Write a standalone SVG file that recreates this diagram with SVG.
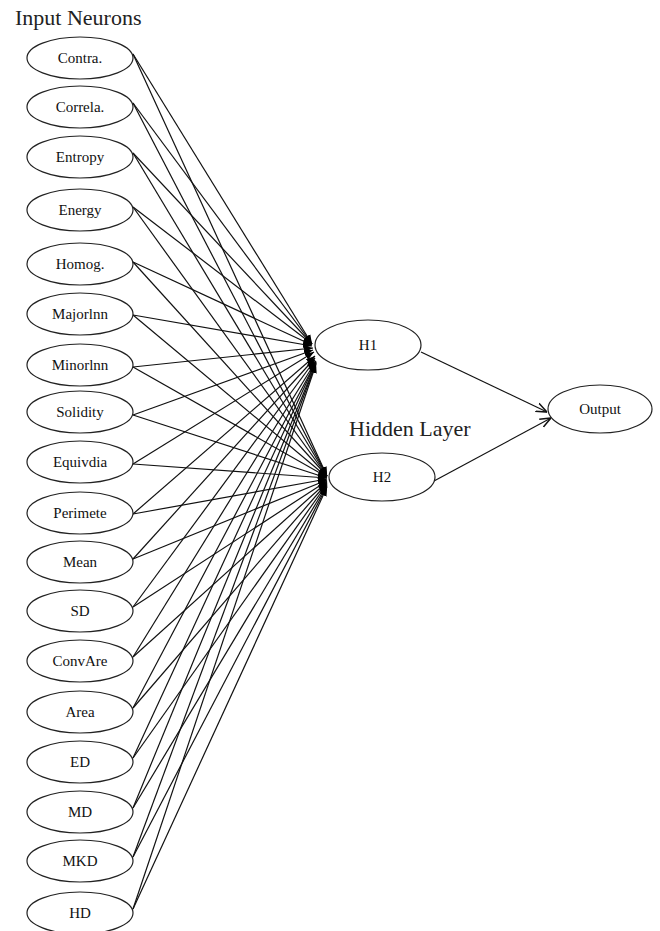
<svg xmlns="http://www.w3.org/2000/svg" width="660" height="931" viewBox="0 0 660 931">
<style>
text{font-family:'Liberation Serif',serif}
.n ellipse{fill:#fff;stroke:#222;stroke-width:1.2}
.n text{font-size:15px;text-anchor:middle;fill:#111}
.t{font-size:22px;fill:#222}
.c line{stroke:#111;stroke-width:1.2}
</style>
<defs>
<marker id="fa" viewBox="0 0 10 10" refX="10" refY="5" markerWidth="9" markerHeight="9" markerUnits="userSpaceOnUse" orient="auto">
<path d="M0,1 L10,5 L0,9 z" fill="#000"/>
</marker>
<marker id="oa" viewBox="0 0 10 10" refX="10" refY="5" markerWidth="11" markerHeight="11" markerUnits="userSpaceOnUse" orient="auto">
<path d="M0,1 L10,5 L0,9" fill="none" stroke="#111" stroke-width="1.4"/>
</marker>
</defs>
<rect width="660" height="931" fill="#fff"/>
<text class="t" x="15" y="25" font-family="Liberation Serif, serif">Input Neurons</text>
<text class="t" x="349" y="436" font-family="Liberation Serif, serif" font-size="21.5">Hidden Layer</text>
<g class="c" id="connectors">
<line x1="133" y1="54" x2="312" y2="344" marker-end="url(#fa)"/>
<line x1="133" y1="54" x2="327" y2="476" marker-end="url(#fa)"/>
<line x1="133" y1="103" x2="312" y2="344" marker-end="url(#fa)"/>
<line x1="133" y1="103" x2="327" y2="476" marker-end="url(#fa)"/>
<line x1="133" y1="153" x2="312" y2="344" marker-end="url(#fa)"/>
<line x1="133" y1="153" x2="327" y2="476" marker-end="url(#fa)"/>
<line x1="133" y1="207" x2="312" y2="344" marker-end="url(#fa)"/>
<line x1="133" y1="207" x2="327" y2="476" marker-end="url(#fa)"/>
<line x1="133" y1="262" x2="312" y2="345" marker-end="url(#fa)"/>
<line x1="133" y1="262" x2="327" y2="476" marker-end="url(#fa)"/>
<line x1="133" y1="315" x2="312" y2="346" marker-end="url(#fa)"/>
<line x1="133" y1="315" x2="327" y2="477" marker-end="url(#fa)"/>
<line x1="133" y1="367" x2="313" y2="348" marker-end="url(#fa)"/>
<line x1="133" y1="367" x2="327" y2="477" marker-end="url(#fa)"/>
<line x1="133" y1="415" x2="313" y2="350" marker-end="url(#fa)"/>
<line x1="133" y1="415" x2="327" y2="478" marker-end="url(#fa)"/>
<line x1="133" y1="464" x2="314" y2="352" marker-end="url(#fa)"/>
<line x1="133" y1="464" x2="327" y2="478" marker-end="url(#fa)"/>
<line x1="133" y1="514" x2="315" y2="356" marker-end="url(#fa)"/>
<line x1="133" y1="514" x2="327" y2="479" marker-end="url(#fa)"/>
<line x1="133" y1="559" x2="315" y2="358" marker-end="url(#fa)"/>
<line x1="133" y1="559" x2="327" y2="480" marker-end="url(#fa)"/>
<line x1="133" y1="607" x2="315" y2="360" marker-end="url(#fa)"/>
<line x1="133" y1="607" x2="327" y2="481" marker-end="url(#fa)"/>
<line x1="133" y1="657" x2="316" y2="361" marker-end="url(#fa)"/>
<line x1="133" y1="657" x2="327" y2="482" marker-end="url(#fa)"/>
<line x1="133" y1="708" x2="316" y2="362" marker-end="url(#fa)"/>
<line x1="133" y1="708" x2="327" y2="483" marker-end="url(#fa)"/>
<line x1="133" y1="758" x2="316" y2="362" marker-end="url(#fa)"/>
<line x1="133" y1="758" x2="327" y2="484" marker-end="url(#fa)"/>
<line x1="133" y1="808" x2="316" y2="363" marker-end="url(#fa)"/>
<line x1="133" y1="808" x2="327" y2="485" marker-end="url(#fa)"/>
<line x1="133" y1="857" x2="316" y2="363" marker-end="url(#fa)"/>
<line x1="133" y1="857" x2="327" y2="486" marker-end="url(#fa)"/>
<line x1="133" y1="909" x2="316" y2="364" marker-end="url(#fa)"/>
<line x1="133" y1="909" x2="327" y2="487" marker-end="url(#fa)"/>
<line x1="421" y1="352" x2="547" y2="412" marker-end="url(#oa)"/>
<line x1="434" y1="481" x2="551" y2="418" marker-end="url(#oa)"/>
</g>
<g class="n" id="n-contra"><ellipse cx="80" cy="58" rx="53" ry="21"/><text x="80" y="63" font-family="Liberation Serif, serif">Contra.</text></g>
<g class="n" id="n-correla"><ellipse cx="80" cy="107" rx="53" ry="21"/><text x="80" y="112" font-family="Liberation Serif, serif">Correla.</text></g>
<g class="n" id="n-entropy"><ellipse cx="80" cy="157" rx="53" ry="21"/><text x="80" y="162" font-family="Liberation Serif, serif">Entropy</text></g>
<g class="n" id="n-energy"><ellipse cx="80" cy="210" rx="53" ry="21"/><text x="80" y="215" font-family="Liberation Serif, serif">Energy</text></g>
<g class="n" id="n-homog"><ellipse cx="80" cy="264" rx="53" ry="21"/><text x="80" y="269" font-family="Liberation Serif, serif">Homog.</text></g>
<g class="n" id="n-major"><ellipse cx="80" cy="314" rx="53" ry="21"/><text x="80" y="319" font-family="Liberation Serif, serif">Majorlnn</text></g>
<g class="n" id="n-minor"><ellipse cx="80" cy="365" rx="53" ry="21"/><text x="80" y="370" font-family="Liberation Serif, serif">Minorlnn</text></g>
<g class="n" id="n-solidity"><ellipse cx="80" cy="412" rx="53" ry="21"/><text x="80" y="417" font-family="Liberation Serif, serif">Solidity</text></g>
<g class="n" id="n-equivdia"><ellipse cx="80" cy="462" rx="53" ry="21"/><text x="80" y="467" font-family="Liberation Serif, serif">Equivdia</text></g>
<g class="n" id="n-perimete"><ellipse cx="80" cy="513" rx="53" ry="21"/><text x="80" y="518" font-family="Liberation Serif, serif">Perimete</text></g>
<g class="n" id="n-mean"><ellipse cx="80" cy="562" rx="53" ry="21"/><text x="80" y="567" font-family="Liberation Serif, serif">Mean</text></g>
<g class="n" id="n-sd"><ellipse cx="80" cy="611" rx="53" ry="21"/><text x="80" y="616" font-family="Liberation Serif, serif">SD</text></g>
<g class="n" id="n-convare"><ellipse cx="80" cy="661" rx="53" ry="21"/><text x="80" y="666" font-family="Liberation Serif, serif">ConvAre</text></g>
<g class="n" id="n-area"><ellipse cx="80" cy="712" rx="53" ry="21"/><text x="80" y="717" font-family="Liberation Serif, serif">Area</text></g>
<g class="n" id="n-ed"><ellipse cx="80" cy="762" rx="53" ry="21"/><text x="80" y="767" font-family="Liberation Serif, serif">ED</text></g>
<g class="n" id="n-md"><ellipse cx="80" cy="812" rx="53" ry="21"/><text x="80" y="817" font-family="Liberation Serif, serif">MD</text></g>
<g class="n" id="n-mkd"><ellipse cx="80" cy="861" rx="53" ry="21"/><text x="80" y="866" font-family="Liberation Serif, serif">MKD</text></g>
<g class="n" id="n-hd"><ellipse cx="80" cy="913" rx="53" ry="21"/><text x="80" y="918" font-family="Liberation Serif, serif">HD</text></g>
<g class="n" id="n-h1"><ellipse cx="368" cy="345" rx="53" ry="25"/><text x="368" y="350" font-family="Liberation Serif, serif">H1</text></g>
<g class="n" id="n-h2"><ellipse cx="382" cy="477" rx="53" ry="24"/><text x="382" y="482" font-family="Liberation Serif, serif">H2</text></g>
<g class="n" id="n-output"><ellipse cx="600" cy="409" rx="52" ry="24"/><text x="600" y="414" font-family="Liberation Serif, serif">Output</text></g>
</svg>
